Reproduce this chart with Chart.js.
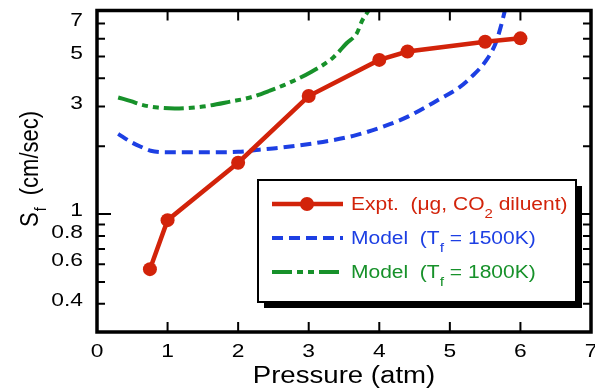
<!DOCTYPE html>
<html>
<head>
<meta charset="utf-8">
<script src="https://cdn.jsdelivr.net/npm/chart.js@4"></script>
<style>
body { margin: 0; background: #fff; }
</style>
</head>
<body>
<canvas id="myChart" width="595" height="390"></canvas>
<script>
// values
let pressureExpt = [0.75, 1, 2, 3, 4, 4.4, 5.5, 6];
let sfExpt = [0.57, 0.94, 1.69, 3.34, 4.83, 5.26, 5.81, 6.02];

let pressure1500 = [0.3, 0.48, 0.62, 0.76, 1.0, 1.5, 2.0, 2.3, 2.6, 3.2, 3.67, 4.14, 4.42, 4.85, 5.13, 5.31, 5.52, 5.65, 5.72, 5.78];
let sf1500 = [2.27, 2.09, 1.99, 1.91, 1.88, 1.88, 1.89, 1.93, 1.97, 2.09, 2.24, 2.5, 2.72, 3.23, 3.64, 4.07, 4.83, 5.74, 6.75, 8.0];

let pressure1800 = [0.3, 0.48, 0.62, 0.86, 1.1, 1.5, 1.9, 2.17, 2.45, 2.73, 3.04, 3.34, 3.54, 3.68, 3.76, 3.85];
let sf1800 = [3.29, 3.17, 3.06, 2.97, 2.94, 3.0, 3.16, 3.29, 3.53, 3.83, 4.28, 4.93, 5.74, 6.33, 7.24, 8.0];

let xTicks = [0, 1, 2, 3, 4, 5, 6, 7];
let yLabelTicks = [0.4, 0.6, 0.8, 1, 3, 5, 7];
let yMinorTicks = [0.5, 0.7, 0.9, 2, 4, 6];

const RED = '#d2230a';
const BLUE = '#1d3fe3';
const GREEN = '#17912a';
const FONT = '"Liberation Sans", Arial, sans-serif';
const SX = 1.2; // text in the figure is a bit wide

function toPoints(xs, ys){
    return xs.map((x, i) => ({x: x, y: ys[i]}));
}

// draws pieces [text, size, dy] one after the other, returns end x
function wideText(ctx, parts, x, y){
    parts.forEach((p) => {
        ctx.save();
        ctx.font = p[1] + 'px ' + FONT;
        ctx.translate(x, y + (p[2] || 0));
        ctx.scale(SX, 1);
        ctx.fillText(p[0], 0, 0);
        x += ctx.measureText(p[0]).width * SX;
        ctx.restore();
    });
    return x;
}

function textWidth(ctx, str, size){
    ctx.font = size + 'px ' + FONT;
    return ctx.measureText(str).width * SX;
}

let framePlugin = {
    id: 'frame',
    afterDraw(chart){
        let ctx = chart.ctx;
        let a = chart.chartArea;
        let x = chart.scales.x;
        let y = chart.scales.y;
        ctx.save();

        // inward ticks on all four sides
        ctx.strokeStyle = '#000';
        ctx.lineWidth = 2;
        ctx.beginPath();
        xTicks.forEach((v) => {
            let px = x.getPixelForValue(v);
            ctx.moveTo(px, a.bottom); ctx.lineTo(px, a.bottom - 10);
            ctx.moveTo(px, a.top); ctx.lineTo(px, a.top + 10);
        });
        yLabelTicks.concat(yMinorTicks).forEach((v) => {
            let py = y.getPixelForValue(v);
            let len = v === 1 ? 14 : 8;
            ctx.moveTo(a.left, py); ctx.lineTo(a.left + len, py);
            ctx.moveTo(a.right, py); ctx.lineTo(a.right - len, py);
        });
        ctx.stroke();
        ctx.lineWidth = 3.5;
        ctx.strokeRect(a.left, a.top, a.right - a.left, a.bottom - a.top);

        // tick labels
        ctx.fillStyle = '#000';
        ctx.textBaseline = 'middle';
        xTicks.forEach((v) => {
            let s = String(v);
            let w = textWidth(ctx, s, 19);
            wideText(ctx, [[s, 19]], x.getPixelForValue(v) - w / 2, a.bottom + 20);
        });
        yLabelTicks.forEach((v) => {
            let s = String(v);
            let w = textWidth(ctx, s, 19);
            wideText(ctx, [[s, 19]], a.left - 14 - w, y.getPixelForValue(v) - 3);
        });

        // axis titles
        ctx.textBaseline = 'alphabetic';
        let title = 'Pressure (atm)';
        let tw = textWidth(ctx, title, 23);
        wideText(ctx, [[title, 23]], (a.left + a.right) / 2 - tw / 2, 383);

        ctx.save();
        ctx.translate(38, 227);
        ctx.rotate(-Math.PI / 2);
        ctx.scale(1, 1.18);
        ctx.font = '22px ' + FONT;
        ctx.fillText('S', 0, 0);
        let sx = ctx.measureText('S').width;
        ctx.font = '14px ' + FONT;
        ctx.fillText('f', sx + 1, 7);
        sx += ctx.measureText('f').width + 1;
        ctx.font = '22px ' + FONT;
        ctx.fillText('  (cm/sec)', sx, 0);
        ctx.restore();

        // legend box with drop shadow
        let bx = 258, by = 180, bw = 318, bh = 122;
        ctx.fillStyle = '#000';
        ctx.fillRect(bx + 6, by + 6, bw, bh);
        ctx.fillStyle = '#fff';
        ctx.fillRect(bx, by, bw, bh);
        ctx.lineWidth = 2;
        ctx.strokeStyle = '#000';
        ctx.strokeRect(bx, by, bw, bh);

        let rows = [204, 238, 272];
        let ds = chart.data.datasets;
        rows.forEach((ry, i) => {
            ctx.save();
            ctx.strokeStyle = ds[i].borderColor;
            ctx.lineWidth = ds[i].borderWidth;
            ctx.setLineDash(ds[i].borderDash || []);
            ctx.beginPath();
            ctx.moveTo(272, ry); ctx.lineTo(343, ry);
            ctx.stroke();
            ctx.restore();
        });
        ctx.fillStyle = RED;
        ctx.beginPath();
        ctx.arc(307, rows[0], 7, 0, Math.PI * 2);
        ctx.fill();

        ctx.fillStyle = RED;
        wideText(ctx, [['Expt.  (\u03bcg, CO', 17.5], ['2', 12.5, 8], [' diluent)', 17.5]], 351, rows[0] + 6);
        ctx.fillStyle = BLUE;
        wideText(ctx, [['Model  (T', 17.5], ['f', 13, 8], [' = 1500K)', 17.5]], 351, rows[1] + 6);
        ctx.fillStyle = GREEN;
        wideText(ctx, [['Model  (T', 17.5], ['f', 13, 8], [' = 1800K)', 17.5]], 351, rows[2] + 6);

        ctx.restore();
    }
};

let ctx = document.getElementById('myChart').getContext('2d');
let myChart = new Chart(ctx, {
    type: 'line',
    data: {
        datasets: [
            {
                label: 'Expt. (\u03bcg, CO2 diluent)',
                data: toPoints(pressureExpt, sfExpt),
                borderColor: RED,
                backgroundColor: RED,
                borderWidth: 4.5,
                pointRadius: 7,
                pointBorderWidth: 0,
                pointBackgroundColor: RED,
                tension: 0
            },
            {
                label: 'Model (Tf = 1500K)',
                data: toPoints(pressure1500, sf1500),
                borderColor: BLUE,
                borderWidth: 4,
                borderDash: [11, 6],
                pointRadius: 0,
                cubicInterpolationMode: 'monotone'
            },
            {
                label: 'Model (Tf = 1800K)',
                data: toPoints(pressure1800, sf1800),
                borderColor: GREEN,
                borderWidth: 4,
                borderDash: [20, 5, 6, 5, 6, 5],
                pointRadius: 0,
                cubicInterpolationMode: 'monotone'
            }
        ]
    },
    options: {
        responsive: false,
        animation: false,
        devicePixelRatio: 1,
        layout: {
            autoPadding: false,
            padding: { left: 97, right: 4, top: 10.5, bottom: 58 }
        },
        plugins: {
            legend: { display: false },
            tooltip: { enabled: false }
        },
        scales: {
            x: { type: 'linear', min: 0, max: 7, display: false },
            y: { type: 'logarithmic', min: 0.3, max: 8, display: false }
        }
    },
    plugins: [framePlugin]
});
</script>
</body>
</html>
